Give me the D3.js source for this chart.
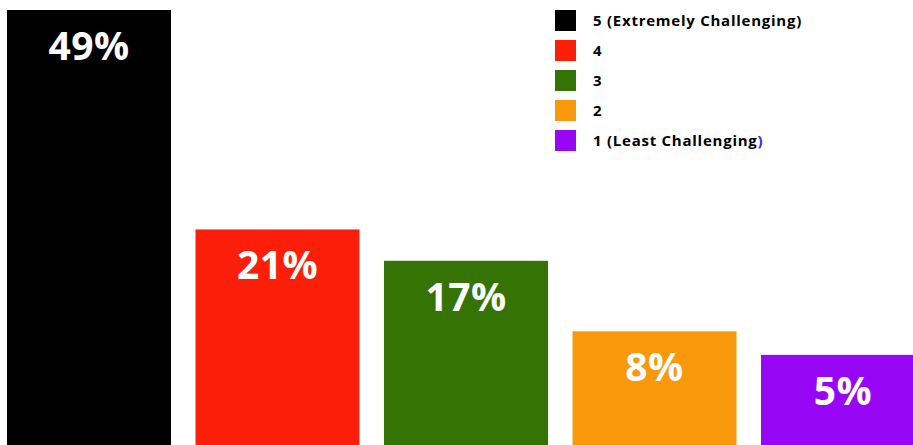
<!DOCTYPE html>
<html>
<head>
<meta charset="utf-8">
<script src="https://cdn.jsdelivr.net/npm/d3@7"></script>
<style>
  html, body { margin: 0; padding: 0; background: #fff; }
  svg { display: block; }
  text { font-family: "Open Sans", "DejaVu Sans", sans-serif; }
</style>
</head>
<body>
<svg id="chart" width="913" height="445"></svg>
<script>
// Rating categories, highest first
const categories = ["5", "4", "3", "2", "1"];
const values = [49, 21, 17, 8, 5];
const legendLabels = ["5 (Extremely Challenging)", "4", "3", "2", "1 (Least Challenging"];
const colors = ["#000000", "#fb1e08", "#347304", "#f9980a", "#9806f6"];

const width = 913, height = 445;
const svg = d3.select("#chart");

const step = 188.5, gap = 24.5;
const x = d3.scaleBand()
  .domain(categories)
  .range([7, 7 + categories.length * step - gap])
  .paddingInner(gap / step)
  .paddingOuter(0);

const y = d3.scaleLinear()
  .domain([-6.5, 49])
  .range([height, 10]);

const color = d3.scaleOrdinal().domain(categories).range(colors);

const data = categories.map((c, i) => ({ cat: c, value: values[i] }));

// Bars run from the value down past the bottom edge
svg.append("g")
  .selectAll("rect")
  .data(data)
  .join("rect")
  .attr("x", d => x(d.cat))
  .attr("y", d => y(d.value))
  .attr("width", x.bandwidth())
  .attr("height", d => height - y(d.value))
  .attr("fill", d => color(d.cat));

// Percentage labels inside each bar
svg.append("g")
  .selectAll("text")
  .data(data)
  .join("text")
  .attr("x", d => x(d.cat) + x.bandwidth() / 2)
  .attr("y", d => y(d.value) + 50)
  .attr("text-anchor", "middle")
  .attr("fill", "#fff")
  .attr("font-size", 39)
  .attr("font-weight", 700)
  .attr("letter-spacing", 0.5)
  .text(d => d.value + "%");

// Legend
const legend = svg.append("g").attr("transform", "translate(555,10)");
const rows = legend.selectAll("g")
  .data(data)
  .join("g")
  .attr("transform", (d, i) => `translate(0,${i * 30})`);

rows.append("rect")
  .attr("width", 21)
  .attr("height", 21)
  .attr("fill", d => color(d.cat));

const labels = rows.append("text")
  .attr("x", 38)
  .attr("y", 16)
  .attr("font-size", 15)
  .attr("font-weight", 700)
  .attr("letter-spacing", 0.75)
  .attr("fill", "#000")
  .text((d, i) => legendLabels[i]);

// Closing parenthesis on the last entry is set in blue
labels.filter((d, i) => i === categories.length - 1)
  .append("tspan")
  .attr("fill", "#2a2af0")
  .text(")");
</script>
</body>
</html>
